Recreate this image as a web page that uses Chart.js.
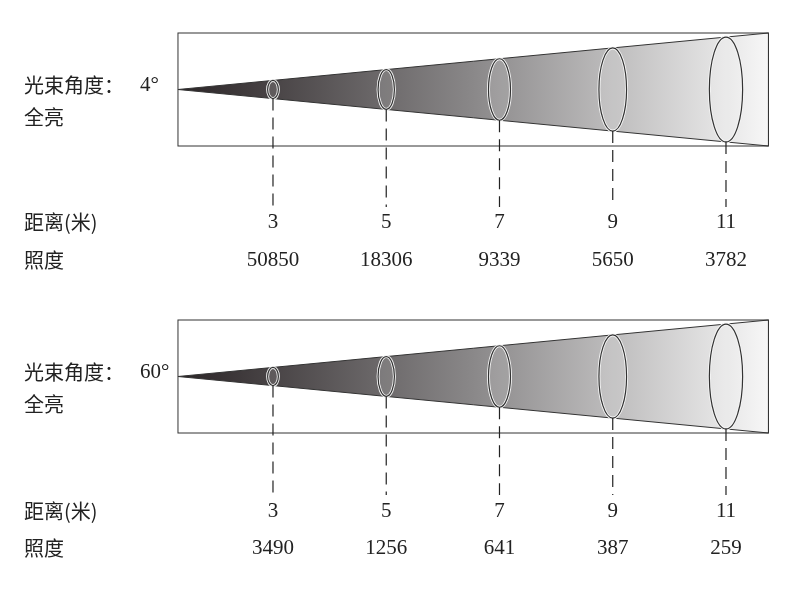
<!DOCTYPE html>
<html>
<head>
<meta charset="utf-8">
<script src="https://cdn.jsdelivr.net/npm/chart.js@4/dist/chart.umd.min.js"></script>
<style>
  body { margin: 0; background: #fff; }
  canvas { display: block; }
</style>
</head>
<body>
<canvas id="beamChart" width="800" height="607"></canvas>
<script>
// data
const distances = [3, 5, 7, 9, 11];
const beamAngles = ['4°', '60°'];
const lux4 = [50850, 18306, 9339, 5650, 3782];
const lux60 = [3490, 1256, 641, 387, 259];
const rowLabels = ['距离(米)', '照度'];
const modeLabel = '全亮';

// geometry in scale units (x = distance in metres, y = page rows)
const apexX = 1.322, endX = 11.75;
const panels = [
    { top: 33, bottom: 146, dashEnd: 207, row1: 222, row2: 260, angle: beamAngles[0], lux: lux4 },
    { top: 320, bottom: 433, dashEnd: 495, row1: 511, row2: 548, angle: beamAngles[1], lux: lux60 },
];

const serif = '"Liberation Serif", "DejaVu Serif", serif';
const cjk = '"Noto Sans CJK SC", sans-serif';

const beamPlugin = {
    id: 'beam',
    afterDraw(chart) {
        const c = chart.ctx;
        const xs = chart.scales.x, ys = chart.scales.y;
        const X = v => xs.getPixelForValue(v);
        const Y = v => ys.getPixelForValue(v);
        c.save();
        panels.forEach(p => {
            const mid = (p.top + p.bottom) / 2;
            const half = (p.bottom - p.top) / 2;
            const x0 = X(apexX), x1 = X(endX);
            const yT = Y(p.top), yB = Y(p.bottom), yM = Y(mid);
            // cone
            const g = c.createLinearGradient(x0, 0, x1, 0);
            g.addColorStop(0, '#2a2426');
            g.addColorStop(0.5, '#8a8889');
            g.addColorStop(1, '#f7f7f7');
            c.beginPath();
            c.moveTo(x0, yM); c.lineTo(x1, yT); c.lineTo(x1, yB); c.closePath();
            c.fillStyle = g; c.fill();
            c.strokeStyle = '#333'; c.lineWidth = 1; c.stroke();
            // box
            c.strokeRect(x0, yT, x1 - x0, yB - yT);
            // ellipses and dashes
            distances.forEach((d, i) => {
                const hh = half * (d - apexX) / (endX - apexX);
                const cx = X(d);
                const ry = Math.abs(Y(mid + hh) - yM);
                const rx = 3 + 0.26 * ry;
                c.beginPath();
                c.ellipse(cx, yM, rx, ry, 0, 0, Math.PI * 2);
                c.fillStyle = 'rgba(255,255,255,0.12)'; c.fill();
                c.strokeStyle = '#f4f4f4'; c.lineWidth = 3; c.stroke();
                c.strokeStyle = '#333'; c.lineWidth = 1.2; c.stroke();
                c.beginPath();
                c.setLineDash([12, 7]);
                c.moveTo(cx, yM + ry); c.lineTo(cx, Y(p.dashEnd));
                c.strokeStyle = '#222'; c.lineWidth = 1.2; c.stroke();
                c.setLineDash([]);
                c.fillStyle = '#222';
                c.textAlign = 'center'; c.textBaseline = 'middle';
                c.font = '21px ' + serif;
                c.fillText(String(d), cx, Y(p.row1));
                c.fillText(String(p.lux[i]), cx, Y(p.row2));
            });
            // labels
            c.textAlign = 'left';
            c.fillStyle = '#222';
            c.font = '20px ' + cjk;
            c.fillText('光束角度：', 24, Y(mid - 4));
            c.font = '21px ' + serif;
            c.fillText(p.angle, 140, Y(mid - 4));
            c.font = '20px ' + cjk;
            c.fillText(modeLabel, 24, Y(mid + 28));
            c.fillText(rowLabels[0], 24, Y(p.row1));
            c.fillText(rowLabels[1], 24, Y(p.row2));
        });
        c.restore();
    }
};

new Chart(document.getElementById('beamChart').getContext('2d'), {
    type: 'scatter',
    data: { datasets: [{ data: [], pointRadius: 0 }] },
    options: {
        responsive: false,
        animation: false,
        layout: { padding: 0 },
        plugins: { legend: { display: false }, tooltip: { enabled: false } },
        scales: {
            x: { type: 'linear', min: -1.821, max: 12.307, display: false },
            y: { type: 'linear', min: 0, max: 607, reverse: true, display: false },
        },
    },
    plugins: [beamPlugin],
});
</script>
</body>
</html>
